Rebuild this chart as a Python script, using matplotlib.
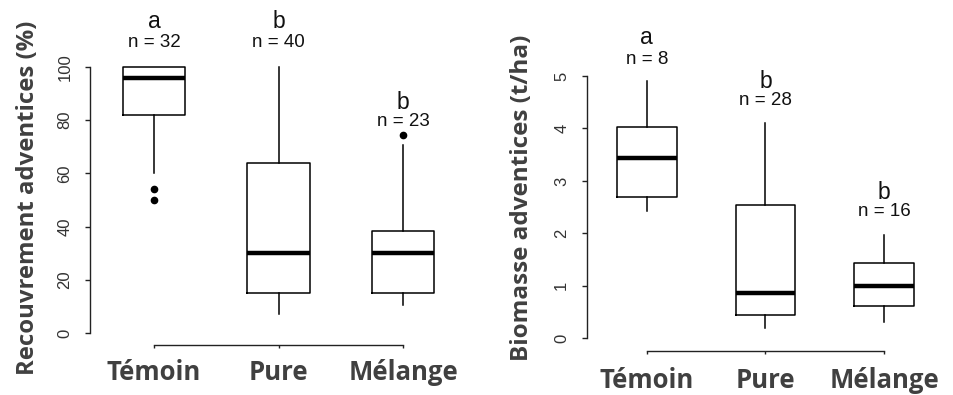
import matplotlib
matplotlib.use('Agg')
import matplotlib.pyplot as plt
from matplotlib.transforms import blended_transform_factory

groups = ['Témoin', 'Pure', 'Mélange']

# recouvrement adventices (%) : whislo, q1, med, q3, whishi
rec_whislo = [60, 7, 10.5]
rec_q1 = [82, 15, 15]
rec_med = [96, 30, 30]
rec_q3 = [100, 64, 38.5]
rec_whishi = [100, 100, 70.5]
rec_fliers = [[54, 50], [], [74.5]]
rec_letters = ['a', 'b', 'b']
rec_n = [32, 40, 23]

# biomasse adventices (t/ha)
bio_whislo = [2.43, 0.19, 0.32]
bio_q1 = [2.70, 0.44, 0.62]
bio_med = [3.44, 0.86, 1.00]
bio_q3 = [4.03, 2.55, 1.43]
bio_whishi = [4.90, 4.10, 1.96]
bio_fliers = [[], [], []]
bio_letters = ['a', 'b', 'b']
bio_n = [8, 28, 16]

TXT = '#404040'
SANS = 'Liberation Sans'
BOLD = 'Open Sans'


def make_stats(lo, q1, med, q3, hi, fl):
    return [dict(whislo=lo[i], q1=q1[i], med=med[i], q3=q3[i], whishi=hi[i],
                 fliers=fl[i]) for i in range(len(lo))]


def draw_panel(fig, rect, xlim, ylim, stats, yticks, width, letters, ns,
               letter_y, n_y, ylabel, ylabel_x, ylabel_size, xlab_y):
    ax = fig.add_axes(rect)
    ax.bxp(stats, positions=[1, 2, 3], widths=width, showcaps=False,
           patch_artist=False,
           boxprops=dict(color='black', linewidth=1.1),
           whiskerprops=dict(color='black', linewidth=1.1, linestyle='-'),
           medianprops=dict(color='black', linewidth=3.2, solid_capstyle='butt'),
           flierprops=dict(marker='o', markerfacecolor='black',
                           markeredgecolor='black', markersize=4.5))
    ax.set_xlim(xlim)
    ax.set_ylim(ylim)
    for s in ['top', 'right']:
        ax.spines[s].set_visible(False)
    ax.spines['left'].set_bounds(yticks[0], yticks[-1])
    ax.spines['bottom'].set_bounds(1, 3)
    for s in ['left', 'bottom']:
        ax.spines[s].set_linewidth(1.0)
        ax.spines[s].set_color('#222222')
    ax.set_yticks(yticks)
    ax.set_xticks([1, 2, 3], labels=['', '', ''])
    ax.tick_params(axis='y', length=3.6, width=1.0, color='#222222', pad=9,
                   labelsize=12, labelcolor='#333333', labelrotation=90)
    ax.tick_params(axis='x', length=2, width=1.0, color='#222222')
    for lab in ax.get_yticklabels():
        lab.set_fontfamily(SANS)
        lab.set_va('center')
    for i in range(3):
        ax.text(i + 1, letter_y[i], letters[i], ha='center', va='center',
                fontsize=16.5, family=SANS, color='#111111', clip_on=False)
        ax.text(i + 1, n_y[i], 'n = %d' % ns[i], ha='center', va='center',
                fontsize=13.5, family=SANS, color='#111111', clip_on=False)
    tr = blended_transform_factory(ax.transData, fig.transFigure)
    for i, g in enumerate(groups):
        ax.text(i + 1, xlab_y, g, transform=tr, ha='center', va='baseline',
                fontsize=18.5, family=BOLD, fontweight='bold', color=TXT,
                clip_on=False)
    fig.text(ylabel_x, 0.5, ylabel, rotation=90, ha='center', va='center',
             fontsize=ylabel_size, family=BOLD, fontweight='bold', color=TXT)
    return ax


fig = plt.figure(figsize=(9.54, 3.95), dpi=100)

draw_panel(fig, [90 / 954, 50 / 395, 350 / 954, 295 / 395],
           (0.486, 3.297), (-4.51, 106.4),
           make_stats(rec_whislo, rec_q1, rec_med, rec_q3, rec_whishi, rec_fliers),
           [0, 20, 40, 60, 80, 100], 0.5, rec_letters, rec_n,
           [117, 117, 86.8], [109.4, 109.4, 79.7],
           'Recouvrement adventices (%)', 28 / 954, 17.2, 15 / 395)

draw_panel(fig, [586.7 / 954, 44.3 / 395, 363.3 / 954, 310.7 / 395],
           (0.495, 3.553), (-0.236, 5.685),
           make_stats(bio_whislo, bio_q1, bio_med, bio_q3, bio_whishi, bio_fliers),
           [0, 1, 2, 3, 4, 5], 0.505, bio_letters, bio_n,
           [5.74, 4.90, 2.77], [5.32, 4.54, 2.41],
           'Biomasse adventices (t/ha)', 521.7 / 954, 17.5, 7 / 395)

fig.savefig('out.png', dpi=100)
